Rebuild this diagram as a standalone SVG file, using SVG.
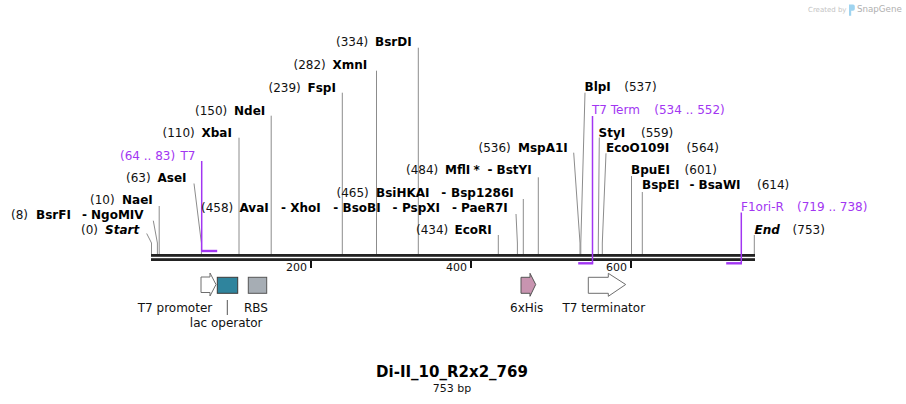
<svg xmlns="http://www.w3.org/2000/svg" width="906" height="404" viewBox="0 0 906 404">
<style>
text{font-family:"DejaVu Sans","Verdana",sans-serif;font-size:12px;fill:#111}
.b{font-weight:bold;fill:#000}
.bi{font-weight:bold;font-style:italic;fill:#000}
.p{fill:#a236f2}
.sc{font-size:11px}
.ln{stroke:#8c8c8c;stroke-width:1;fill:none}
.pl{stroke:#a236f2;fill:none}
.bb{fill:#222}
.tk{stroke:#111;stroke-width:2}
.fo{stroke:#6e6e6e;stroke-width:1}
</style>
<rect width="906" height="404" fill="#fff"/>
<g id="watermark">
<text x="808" y="11.5" style="font-size:7px;fill:#c4c4c4">Created by</text>
<path d="M849,4.5 h4 q1.8,0 1.8,1.8 v2.6 q0,1.8 -1.8,1.8 h-1.8 v5 h-2.2 z" fill="#9fd4f0"/>
<text x="857" y="11.7" style="font-size:8.7px;fill:#b0b0b0">SnapGene</text>
</g>
<g id="connectors">
<polyline class="ln" points="146.7,233.5 151.5,243 151.5,255"/>
<polyline class="ln" points="153.3,220.7 157.4,243 157.4,255"/>
<polyline class="ln" points="159.2,206 159.2,255"/>
<polyline class="ln" points="194,183.5 201.4,243 201.4,255"/>
<polyline class="ln" points="239,137.7 239,255"/>
<polyline class="ln" points="271.2,115.7 271.2,255"/>
<polyline class="ln" points="342.3,92.7 342.3,255"/>
<polyline class="ln" points="376.5,70.7 376.5,255"/>
<polyline class="ln" points="418.3,47.7 418.3,255"/>
<polyline class="ln" points="498.3,235 498.3,255"/>
<polyline class="ln" points="516,214 517.4,243 517.4,255"/>
<polyline class="ln" points="523.3,199 523.3,255"/>
<polyline class="ln" points="538.3,177.3 538.3,255"/>
<polyline class="ln" points="573.7,152.7 580,243 580,255"/>
<polyline class="ln" points="585,92.7 580.8,243 580.8,255"/>
<polyline class="ln" points="599.3,137.5 598.3,243 598.3,255"/>
<polyline class="ln" points="606,153.3 602.3,243 602.3,255"/>
<polyline class="ln" points="631.5,176 631.5,255"/>
<polyline class="ln" points="642.3,192 642.3,255"/>
<polyline class="ln" points="754.3,235 754.3,255"/>
</g>
<g id="backbone">
<rect class="bb" x="151" y="254" width="604" height="2.8"/>
<rect class="bb" x="151" y="258.2" width="604" height="2.8"/>
<line class="tk" x1="311" y1="261" x2="311" y2="268"/>
<line class="tk" x1="471" y1="261" x2="471" y2="268"/>
<line class="tk" x1="631" y1="261" x2="631" y2="268"/>
<text class="sc" x="307" y="270.5" text-anchor="end">200</text>
<text class="sc" x="467" y="270.5" text-anchor="end">400</text>
<text class="sc" x="627" y="270.5" text-anchor="end">600</text>
</g>
<g id="primer-T7">
<path class="pl" d="M201.7,161 V251" stroke-width="1.5"/>
<path class="pl" d="M201,251 H217.2" stroke-width="2.4"/>
<text class="p" x="120" y="159.5">(64 .. 83)</text>
<text class="p" x="180.5" y="159.5">T7</text>
</g>
<g id="primer-T7Term">
<path class="pl" d="M592.5,116 V263.5" stroke-width="1.5"/>
<path class="pl" d="M578.2,263.3 H593.2" stroke-width="2.4"/>
<text class="p" x="592" y="114">T7 Term</text>
<text class="p" x="654.3" y="114">(534 .. 552)</text>
</g>
<g id="primer-F1oriR">
<path class="pl" d="M741.3,212.5 V263.5" stroke-width="1.5"/>
<path class="pl" d="M726.2,263.3 H742" stroke-width="2.4"/>
<text class="p" x="741" y="211.3">F1ori-R</text>
<text class="p" x="797" y="211.3">(719 .. 738)</text>
</g>
<g id="site-start"><text x="81" y="234">(0)</text><text class="bi" x="105" y="234">Start</text></g>
<g id="site-BsrFI"><text x="11" y="219.3">(8)</text><text class="b" x="36" y="219.3">BsrFI</text><text class="b" x="82" y="219.3">-</text><text class="b" x="91" y="219.3">NgoMIV</text></g>
<g id="site-NaeI"><text x="90" y="204.3">(10)</text><text class="b" x="122" y="204.3">NaeI</text></g>
<g id="site-AseI"><text x="126" y="181.7">(63)</text><text class="b" x="157.5" y="181.7">AseI</text></g>
<g id="site-XbaI"><text x="162.5" y="136.7">(110)</text><text class="b" x="201.5" y="136.7">XbaI</text></g>
<g id="site-NdeI"><text x="195" y="114.7">(150)</text><text class="b" x="234" y="114.7">NdeI</text></g>
<g id="site-FspI"><text x="268.5" y="91.7">(239)</text><text class="b" x="307.5" y="91.7">FspI</text></g>
<g id="site-XmnI"><text x="293.5" y="69">(282)</text><text class="b" x="332.5" y="69">XmnI</text></g>
<g id="site-BsrDI"><text x="336" y="46">(334)</text><text class="b" x="375" y="46">BsrDI</text></g>
<g id="site-AvaI"><text x="201" y="211.5">(458)</text><text class="b" x="239.5" y="211.5">AvaI</text><text class="b" x="281" y="211.5">-</text><text class="b" x="290.3" y="211.5">XhoI</text><text class="b" x="333.3" y="211.5">-</text><text class="b" x="342.5" y="211.5">BsoBI</text><text class="b" x="392.6" y="211.5">-</text><text class="b" x="402" y="211.5">PspXI</text><text class="b" x="452" y="211.5">-</text><text class="b" x="461" y="211.5">PaeR7I</text></g>
<g id="site-BsiHKAI"><text x="336.5" y="196.7">(465)</text><text class="b" x="376" y="196.7">BsiHKAI</text><text class="b" x="441.3" y="196.7">-</text><text class="b" x="451" y="196.7">Bsp1286I</text></g>
<g id="site-MflI"><text x="406" y="174.3">(484)</text><text class="b" x="445" y="174.3">MflI</text><text class="b" x="473.5" y="174.3">*</text><text class="b" x="487.6" y="174.3">-</text><text class="b" x="496.5" y="174.3">BstYI</text></g>
<g id="site-EcoRI"><text x="416" y="234">(434)</text><text class="b" x="454.5" y="234">EcoRI</text></g>
<g id="site-MspA1I"><text x="478.5" y="151.7">(536)</text><text class="b" x="518" y="151.7">MspA1I</text></g>
<g id="site-BlpI"><text class="b" x="584.5" y="91">BlpI</text><text x="624.3" y="91">(537)</text></g>
<g id="site-StyI"><text class="b" x="598.5" y="136.7">StyI</text><text x="641" y="136.7">(559)</text></g>
<g id="site-EcoO109I"><text class="b" x="606" y="151.7">EcoO109I</text><text x="686.6" y="151.7">(564)</text></g>
<g id="site-BpuEI"><text class="b" x="631" y="174.3">BpuEI</text><text x="684.6" y="174.3">(601)</text></g>
<g id="site-BspEI"><text class="b" x="642" y="189.3">BspEI</text><text class="b" x="689.6" y="189.3">-</text><text class="b" x="698.5" y="189.3">BsaWI</text><text x="757" y="189.3">(614)</text></g>
<g id="site-end"><text class="bi" x="754.5" y="234">End</text><text x="792.6" y="234">(753)</text></g>
<g id="feature-T7promoter">
<path class="fo" d="M201,277 H210 V273 L216,284.5 L210,296 V292.5 H201 Z" fill="#fff"/>
<text x="175" y="311.5" text-anchor="middle">T7 promoter</text>
</g>
<g id="feature-lacoperator">
<rect x="217.3" y="277.3" width="20.4" height="16" fill="#2f849d" stroke="#3a3a3a" stroke-width="1"/>
<line x1="227.3" y1="300" x2="227.3" y2="315" stroke="#555" stroke-width="1"/>
<text x="226.2" y="327" text-anchor="middle">lac operator</text>
</g>
<g id="feature-RBS">
<rect x="248.3" y="277.3" width="18.4" height="16" fill="#a6adb4" stroke="#555" stroke-width="1"/>
<text x="256" y="311.5" text-anchor="middle">RBS</text>
</g>
<g id="feature-6xHis">
<path d="M521,277.3 H530 V273.3 L535.7,284.5 L530,296.3 V293.3 H521 Z" fill="#c894b0" stroke="#555" stroke-width="1"/>
<text x="526.7" y="311.5" text-anchor="middle">6xHis</text>
</g>
<g id="feature-T7terminator">
<path class="fo" d="M588.3,277.3 H608.3 V273.3 L625.7,284.5 L608.3,296.3 V293.3 H588.3 Z" fill="#fff"/>
<text x="603.8" y="311.5" text-anchor="middle">T7 terminator</text>
</g>
<g id="title">
<text class="b" x="452" y="377" text-anchor="middle" style="font-size:15px">Di-II_10_R2x2_769</text>
<text class="sc" x="452" y="391.5" text-anchor="middle">753 bp</text>
</g>
</svg>
